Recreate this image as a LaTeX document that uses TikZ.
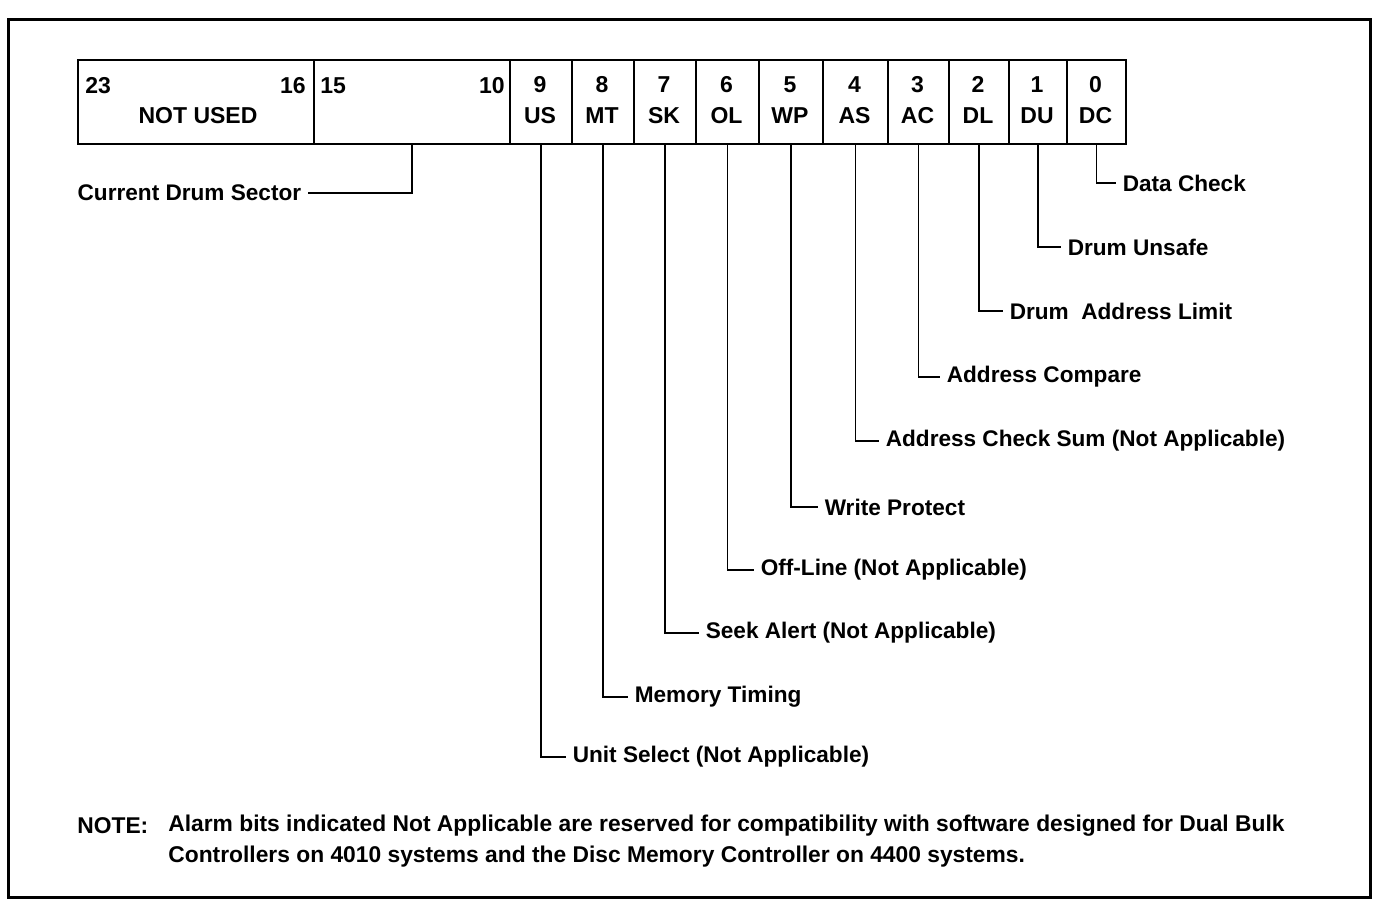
\documentclass[tikz,border=0pt]{standalone}
\usepackage{fontspec}
\setmainfont{Liberation Sans}
\begin{document}
\begin{tikzpicture}[x=0.5pt,y=-0.5pt,
  frame/.style={line width=1.5pt},
  cell/.style={draw, line width=1pt, minimum height=42pt, inner sep=0pt, anchor=north west},
  txt/.style={inner sep=0pt, font=\bfseries\fontsize{11.5}{14}\selectfont},
  lab/.style={inner sep=3.2pt, anchor=west, font=\bfseries\fontsize{11.3}{14}\selectfont},
  conn/.style={line width=0.8pt},
  note/.style={inner sep=0pt, anchor=west, font=\bfseries\fontsize{11.4}{14}\selectfont}]
\useasboundingbox (0,0) rectangle (1374,904);
\draw[frame] (8,20) rectangle (1370,897);
% register cells
\node[cell, minimum width=118pt] (nu) at (77,59) {};
\node[cell, minimum width=98pt] (cds) at (313,59) {};
\node[txt, anchor=west] (n23) at (85,86) {23};
\node[txt, anchor=east] (n16) at (306,86) {16};
\node[txt] (nused) at (198,116) {NOT USED};
\node[txt, anchor=west] (n15) at (320,86) {15};
\node[txt, anchor=east] (n10) at (505,86) {10};
\foreach \n/\a/\b/\num/\ab in {us/509/571/9/US, mt/571/633/8/MT, sk/633/695/7/SK, ol/695/758/6/OL, wp/758/822/5/WP, as/822/887/4/AS, ac/887/948/3/AC, dl/948/1008/2/DL, du/1008/1066/1/DU, dc/1066/1125/0/DC}{
  \node[cell, minimum width={(\b-\a)*0.5pt}] (\n) at (\a,59) {};
  \node[txt, anchor=base] (\n num) at ({(\a+\b)/2},92) {\num};
  \node[txt, anchor=base] (\n ab) at ({(\a+\b)/2},124) {\ab};
}
% labels
\node[lab, anchor=east] (lcds) at (308,193) {Current Drum Sector};
\node[lab] (ldc) at (1116,183) {Data Check};
\node[lab] (ldu) at (1061,247) {Drum Unsafe};
\node[lab] (ldl) at (1003,311) {Drum\ \ Address Limit};
\node[lab] (lac) at (940,377) {Address Compare};
\node[lab] (las) at (879,441) {Address Check Sum (Not Applicable)};
\node[lab] (lwp) at (818,507) {Write Protect};
\node[lab] (lol) at (754,570) {Off-Line (Not Applicable)};
\node[lab] (lsk) at (699,633) {Seek Alert (Not Applicable)};
\node[lab] (lmt) at (628,697) {Memory Timing};
\node[lab] (lus) at (566,757) {Unit Select (Not Applicable)};
% connectors
\draw[conn] (cds.south) |- (lcds.east);
\foreach \n in {dc,du,dl,ac,as,wp,ol,sk,mt,us}
  \draw[conn] (\n.south) |- (l\n.west);
% note
\node[note] (nnote) at (77,826) {NOTE:};
\node[note] (nl1) at (168,826) {Alarm bits indicated Not Applicable are reserved for compatibility with software designed for Dual Bulk};
\node[note] (nl2) at (168,857) {Controllers on 4010 systems and the Disc Memory Controller on 4400 systems.};
\end{tikzpicture}
\end{document}
